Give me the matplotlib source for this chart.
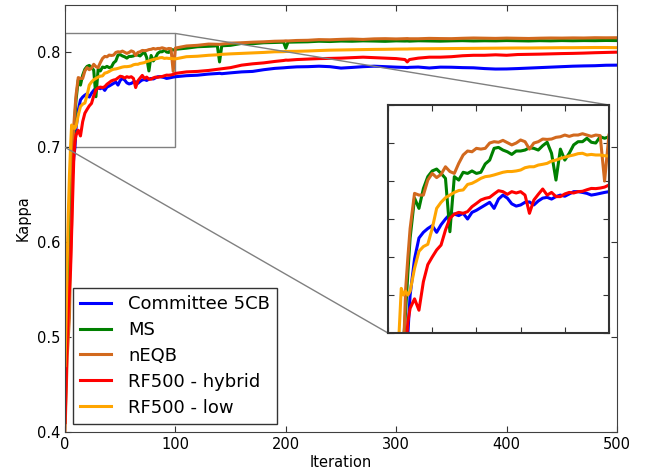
import matplotlib
matplotlib.use('Agg')
import matplotlib.pyplot as plt
from mpl_toolkits.axes_grid1.inset_locator import mark_inset

iterations = (list(range(0, 10)) + list(range(10, 100, 2)) +
              [100, 110, 120, 130, 138, 140, 142, 150, 160, 170, 180, 190,
               198, 200, 202, 210, 220, 230, 240, 250, 260, 270, 280, 290,
               300, 308, 310, 312, 320, 330, 340, 350, 360, 370, 380, 390,
               400, 410, 420, 430, 440, 450, 460, 470, 480, 490, 500])

committee = [0.43, 0.50, 0.55, 0.59, 0.62, 0.645, 0.66, 0.675, 0.69, 0.70,
             0.720, 0.739, 0.750, 0.753, 0.755, 0.7565, 0.753, 0.757, 0.760, 0.7625,
             0.7626, 0.7618, 0.763, 0.760, 0.7635, 0.7646, 0.766, 0.7674, 0.7688, 0.7656,
             0.7705, 0.7726, 0.771, 0.768, 0.7668, 0.7674, 0.7688, 0.769, 0.7674, 0.7695,
             0.771, 0.7714, 0.7705, 0.7718, 0.7726, 0.772, 0.7732, 0.7744, 0.7744, 0.774,
             0.7735, 0.7726, 0.773, 0.7735, 0.774,
             0.7744, 0.7755, 0.776, 0.7772, 0.7778, 0.778, 0.7776, 0.7785, 0.7795, 0.780,
             0.7818, 0.7832, 0.7838, 0.784, 0.7842, 0.7848, 0.785, 0.7855, 0.785, 0.7835,
             0.7842, 0.785, 0.7855, 0.785, 0.7845, 0.7842, 0.784, 0.7843, 0.7846, 0.7836,
             0.7845, 0.7844, 0.784, 0.7838, 0.783, 0.7825, 0.7826, 0.783, 0.7835, 0.784,
             0.7845, 0.785, 0.7855, 0.7858, 0.786, 0.7865, 0.7866]

ms = [0.41, 0.48, 0.55, 0.60, 0.64, 0.66, 0.68, 0.695, 0.712, 0.732,
      0.750, 0.771, 0.7656, 0.776, 0.7823, 0.7853, 0.7863, 0.784, 0.7814, 0.7533,
      0.7823, 0.7805, 0.7846, 0.784, 0.7853, 0.784, 0.7846, 0.789, 0.791, 0.7972,
      0.7977, 0.7963, 0.7954, 0.794, 0.7958, 0.7958, 0.7963, 0.7975, 0.7972, 0.7963,
      0.7986, 0.8004, 0.7946, 0.7805, 0.7968, 0.791, 0.7946, 0.799, 0.8007, 0.8007,
      0.8025, 0.8004, 0.800, 0.8033, 0.8025,
      0.8033, 0.8045, 0.806, 0.8065, 0.807, 0.790, 0.807, 0.8075, 0.8095, 0.8092,
      0.8102, 0.8105, 0.8108, 0.8045, 0.8108, 0.811, 0.8112, 0.8118, 0.8115, 0.812,
      0.8118, 0.8122, 0.812, 0.8117, 0.8122, 0.812, 0.8121, 0.8119, 0.8123, 0.8121,
      0.8119, 0.8122, 0.8124, 0.8121, 0.8123, 0.8122, 0.8125, 0.8123, 0.8121, 0.8124,
      0.8122, 0.8125, 0.8123, 0.8125, 0.8124, 0.8126, 0.8125]

neqb = [0.40, 0.44, 0.48, 0.50, 0.52, 0.58, 0.62, 0.69, 0.7235, 0.74,
        0.755, 0.7735, 0.7726, 0.7726, 0.7805, 0.784, 0.7818, 0.7835, 0.7875, 0.785,
        0.784, 0.7893, 0.7937, 0.7958, 0.7954, 0.7972, 0.7968, 0.7972, 0.800, 0.8007,
        0.8004, 0.8014, 0.8002, 0.799, 0.800, 0.8016, 0.8007, 0.7968, 0.800, 0.8007,
        0.8021, 0.8019, 0.8021, 0.803, 0.8033, 0.8042, 0.8035, 0.8042, 0.8042, 0.8049,
        0.8042, 0.8035, 0.8042, 0.8039, 0.780,
        0.8046, 0.8068, 0.8075, 0.8088, 0.8086, 0.8085, 0.8088, 0.8098, 0.8102, 0.8108,
        0.8112, 0.8118, 0.812, 0.8122, 0.8121, 0.8126, 0.8128, 0.8135, 0.8133, 0.8138,
        0.8141, 0.8137, 0.8143, 0.8145, 0.8142, 0.8145, 0.8146, 0.8144, 0.8144, 0.8148,
        0.8146, 0.8145, 0.8149, 0.8152, 0.815, 0.8148, 0.8151, 0.8149, 0.8147, 0.815,
        0.8152, 0.8151, 0.8153, 0.8152, 0.8155, 0.8154, 0.8155]

rf_hybrid = [0.41, 0.45, 0.50, 0.53, 0.55, 0.57, 0.61, 0.65, 0.69, 0.706,
             0.713, 0.718, 0.712, 0.727, 0.736, 0.740, 0.7437, 0.7463, 0.7542, 0.7604,
             0.7626, 0.7635, 0.763, 0.7639, 0.7665, 0.7682, 0.770, 0.7709, 0.7714, 0.7732,
             0.7749, 0.7744, 0.773, 0.7744, 0.7737, 0.7744, 0.7726, 0.763, 0.770, 0.773,
             0.7758, 0.7726, 0.774, 0.7718, 0.7718, 0.7732, 0.774, 0.7737, 0.7744, 0.7746,
             0.7754, 0.7761, 0.776, 0.7763, 0.7768,
             0.7779, 0.7795, 0.780, 0.781, 0.7822, 0.7825, 0.7828, 0.784, 0.7866, 0.788,
             0.789, 0.7905, 0.7915, 0.7919, 0.7918, 0.7925, 0.793, 0.7935, 0.7937, 0.794,
             0.7945, 0.795, 0.7945, 0.794, 0.7935, 0.7925, 0.790, 0.7925, 0.794, 0.795,
             0.795, 0.7955, 0.7965, 0.797, 0.797, 0.7975, 0.797, 0.7978, 0.798, 0.7982,
             0.7985, 0.7988, 0.799, 0.7993, 0.7997, 0.800, 0.8003]

rf_low = [0.47, 0.52, 0.58, 0.63, 0.67, 0.70, 0.7235, 0.72, 0.722, 0.72,
          0.722, 0.734, 0.743, 0.7455, 0.7467, 0.755, 0.7656, 0.7688, 0.7712, 0.7726,
          0.774, 0.775, 0.7753, 0.7782, 0.7788, 0.780, 0.7814, 0.7823, 0.7826, 0.7832,
          0.7839, 0.7846, 0.785, 0.785, 0.7853, 0.7858, 0.787, 0.7875, 0.7875, 0.7884,
          0.7888, 0.7893, 0.7905, 0.791, 0.7919, 0.7925, 0.7932, 0.7937, 0.7944, 0.7946,
          0.7937, 0.794, 0.7937, 0.7937, 0.7933,
          0.7932, 0.7955, 0.796, 0.797, 0.7975, 0.7978, 0.798, 0.7985, 0.799, 0.7995,
          0.800, 0.8007, 0.8008, 0.801, 0.8011, 0.8012, 0.8015, 0.802, 0.8024, 0.8026,
          0.8028, 0.803, 0.8032, 0.8033, 0.8035, 0.8036, 0.8036, 0.8037, 0.8038, 0.8039,
          0.804, 0.8041, 0.8042, 0.8043, 0.8044, 0.8045, 0.8046, 0.8047, 0.8047, 0.8048,
          0.8049, 0.805, 0.805, 0.8051, 0.8052, 0.8052, 0.805]

labels = ['Committee 5CB', 'MS', 'nEQB', 'RF500 - hybrid', 'RF500 - low']
series = [committee, ms, neqb, rf_hybrid, rf_low]
colors = ['#0000FF', '#008000', '#D2691E', '#FF0000', '#FFA500']

x_ticks = [0, 100, 200, 300, 400, 500]
y_ticks = [0.4, 0.5, 0.6, 0.7, 0.8]

fig = plt.figure(figsize=(6.54, 4.75), dpi=100)
ax = fig.add_axes([0.0994, 0.0905, 0.844, 0.899])
axins = fig.add_axes([0.5933, 0.2989, 0.3379, 0.48])

for ys, lab, c in zip(series, labels, colors):
    ax.plot(iterations, ys, color=c, lw=2.2, label=lab)
    axins.plot(iterations, ys, color=c, lw=2.2)

ax.set_xlim(0, 500)
ax.set_ylim(0.4, 0.85)
ax.set_xticks(x_ticks)
ax.set_yticks(y_ticks)
ax.tick_params(direction='in', top=True, right=True, length=4, labelsize=10.5, color='0.2')
ax.set_xlabel('Iteration', fontsize=10.5, labelpad=2)
ax.set_ylabel('Kappa', fontsize=10.5)
for s in ax.spines.values():
    s.set_color('0.25')

axins.set_xlim(0, 100)
axins.set_ylim(0.70, 0.82)
axins.set_xticks([0, 20, 40, 60, 80, 100])
axins.set_yticks([0.70, 0.72, 0.74, 0.76, 0.78, 0.80, 0.82])
axins.tick_params(direction='in', top=True, right=True, length=4,
                  labelbottom=False, labelleft=False, color='0.2')
for s in axins.spines.values():
    s.set_color('0.2')
    s.set_linewidth(1.5)

mark_inset(ax, axins, loc1=1, loc2=3, fc='none', ec='0.5', lw=1)

leg = ax.legend(loc='lower left', fontsize=13, fancybox=False, handlelength=1.7,
                handletextpad=0.95, labelspacing=0.44, borderaxespad=0.45)
leg.get_frame().set_edgecolor('black')
leg.get_frame().set_linewidth(1.0)

fig.savefig('out.png', dpi=100)
